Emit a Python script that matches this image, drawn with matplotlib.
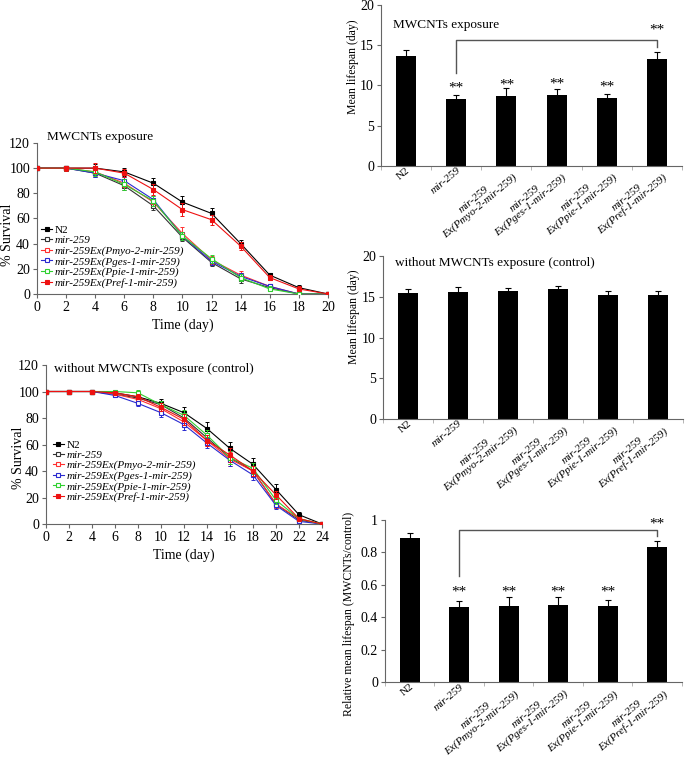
import numpy as np
import matplotlib
matplotlib.use("Agg")
import matplotlib.pyplot as plt

plt.rcParams['font.family'] = ['Liberation Serif', 'DejaVu Serif']

# ---------------- data ----------------
strains = ['N2', 'mir-259', 'mir-259Ex(Pmyo-2-mir-259)', 'mir-259Ex(Pges-1-mir-259)',
           'mir-259Ex(Ppie-1-mir-259)', 'mir-259Ex(Pref-1-mir-259)']

days_exp = [0, 2, 4, 6, 8, 10, 12, 14, 16, 18, 20]
surv_exp_n2 = [100, 100, 100, 97, 88, 73, 64, 40, 15, 5, 0]
surv_exp_mir = [100, 100, 96, 86, 70, 45, 25, 12, 5, 0, 0]
surv_exp_pmyo = [100, 100, 97, 88, 73, 48, 27, 15, 6, 0, 0]
surv_exp_pges = [100, 100, 96, 90, 75, 46, 26, 14, 6, 0, 0]
surv_exp_ppie = [100, 100, 97, 87, 74, 46, 28, 13, 4, 0, 0]
surv_exp_pref = [100, 100, 100, 96, 83, 67, 59, 38, 13, 4, 0]
err_exp_n2 = [0, 2, 3, 3, 4, 5, 4, 3, 2, 2, 0]
err_exp_mir = [0, 2, 3, 3, 3, 3, 3, 3, 2, 0, 0]
err_exp_pmyo = [0, 2, 3, 3, 3, 5, 3, 3, 2, 0, 0]
err_exp_pges = [0, 2, 3, 3, 3, 3, 3, 3, 2, 0, 0]
err_exp_ppie = [0, 2, 3, 4, 4, 3, 3, 3, 2, 0, 0]
err_exp_pref = [0, 2, 4, 3, 4, 5, 4, 3, 2, 2, 0]

days_ctl = [0, 2, 4, 6, 8, 10, 12, 14, 16, 18, 20, 22, 24]
surv_ctl_n2 = [100, 100, 100, 99, 96, 91, 84, 72, 57, 45, 26, 7, 0]
surv_ctl_mir = [100, 100, 100, 98, 95, 90, 80, 65, 50, 40, 15, 3, 0]
surv_ctl_pmyo = [100, 100, 100, 98, 94, 87, 77, 63, 49, 40, 15, 4, 0]
surv_ctl_pges = [100, 100, 100, 97, 91, 84, 75, 61, 48, 37, 14, 2, 0]
surv_ctl_ppie = [100, 100, 100, 100, 99, 90, 82, 67, 50, 42, 18, 4, 0]
surv_ctl_pref = [100, 100, 100, 99, 96, 88, 79, 63, 52, 40, 22, 4, 0]
err_ctl_n2 = [0, 0, 0, 1, 2, 3, 4, 5, 5, 5, 4, 2, 0]
err_ctl_mir = [0, 0, 0, 1, 2, 3, 4, 4, 5, 4, 3, 1, 0]
err_ctl_pmyo = [0, 0, 0, 1, 2, 3, 4, 4, 5, 4, 3, 1, 0]
err_ctl_pges = [0, 0, 0, 1, 2, 3, 4, 4, 4, 4, 3, 1, 0]
err_ctl_ppie = [0, 0, 0, 1, 2, 3, 4, 4, 5, 4, 3, 1, 0]
err_ctl_pref = [0, 0, 0, 1, 2, 3, 4, 4, 5, 4, 3, 1, 0]

bar_labels = ['N2', 'mir-259', 'mir-259\nEx(Pmyo-2-mir-259)', 'mir-259\nEx(Pges-1-mir-259)',
              'mir-259\nEx(Ppie-1-mir-259)', 'mir-259\nEx(Pref-1-mir-259)']
exp_mean = [13.6, 8.3, 8.65, 8.85, 8.5, 13.25]
exp_err = [0.75, 0.5, 1.0, 0.7, 0.45, 0.9]
ctl_mean = [15.55, 15.6, 15.8, 16.0, 15.2, 15.3]
ctl_err = [0.45, 0.6, 0.35, 0.35, 0.6, 0.5]
rel_mean = [0.89, 0.463, 0.467, 0.479, 0.473, 0.835]
rel_err = [0.03, 0.037, 0.06, 0.045, 0.037, 0.035]

line_colors = ['black', '#333333', '#ff3030', '#2a2ad0', '#30d030', '#ee1111']
line_filled = [True, False, False, False, False, True]

SPINE = '#666666'

fig = plt.figure(figsize=(6.85, 7.62), dpi=100)

def style_axes(ax):
    for s in ['top', 'right']:
        ax.spines[s].set_visible(False)
    for s in ['left', 'bottom']:
        ax.spines[s].set_color(SPINE)
        ax.spines[s].set_linewidth(0.8)

def line_panel(ax, days, series, errs, title, title_xy, leg_anchor, xmax, ylab_xy):
    for i, (vals, err) in enumerate(zip(series, errs)):
        c = line_colors[i]
        ax.errorbar(days, vals, yerr=err, fmt='none', ecolor=c, elinewidth=0.7,
                    capsize=1.5, capthick=0.7, zorder=2 + i)
        ax.plot(days, vals, color=c, lw=0.8, marker='s', ms=3.5,
                mfc=c if line_filled[i] else 'white', mec=c, mew=0.8,
                label=strains[i], zorder=3 + i)
    style_axes(ax)
    ax.set_xlim(0, xmax)
    ax.set_ylim(0, 120)
    ax.set_xticks(range(0, xmax + 1, 2))
    ax.set_yticks(range(0, 121, 20))
    ax.tick_params(labelsize=10, length=3, width=0.8, color=SPINE, pad=2)
    ax.set_xlabel('Time (day)', fontsize=10, labelpad=3)
    ax.set_ylabel('% Survival', fontsize=10)
    ax.yaxis.set_label_coords(*ylab_xy)
    ax.text(title_xy[0], title_xy[1], title, transform=ax.transAxes, fontsize=9.5,
            ha='left', va='center')
    leg = ax.legend(loc='upper left', bbox_to_anchor=leg_anchor, frameon=False,
                    fontsize=8, handlelength=1.0, handletextpad=0.2, labelspacing=0.05,
                    borderaxespad=0, borderpad=0)
    for j, t in enumerate(leg.get_texts()):
        if j > 0:
            t.set_fontstyle('italic')

ax1 = fig.add_axes([0.0540, 0.6142, 0.4248, 0.1982])
line_panel(ax1, days_exp,
           [surv_exp_n2, surv_exp_mir, surv_exp_pmyo, surv_exp_pges, surv_exp_ppie, surv_exp_pref],
           [err_exp_n2, err_exp_mir, err_exp_pmyo, err_exp_pges, err_exp_ppie, err_exp_pref],
           'MWCNTs exposure', (0.035, 1.04), (0.015, 0.455), 20, (-0.078, 0.39))

ax2 = fig.add_axes([0.0672, 0.3123, 0.4029, 0.2087])
line_panel(ax2, days_ctl,
           [surv_ctl_n2, surv_ctl_mir, surv_ctl_pmyo, surv_ctl_pges, surv_ctl_ppie, surv_ctl_pref],
           [err_ctl_n2, err_ctl_mir, err_ctl_pmyo, err_ctl_pges, err_ctl_ppie, err_ctl_pref],
           'without MWCNTs exposure (control)', (0.03, 0.975), (0.025, 0.53), 24,
           (-0.078, 0.415))

def bar_panel(ax, means, errs, ymax, yticks, ylabel, title, title_y, ylab_xy):
    x = np.arange(len(means))
    ax.bar(x, means, width=0.4, color='black', zorder=2)
    ax.errorbar(x, means, yerr=errs, fmt='none', ecolor='black', elinewidth=0.8,
                capsize=2, capthick=0.8, zorder=3)
    style_axes(ax)
    ax.set_xlim(-0.5, 5.5)
    ax.set_ylim(0, ymax)
    ax.set_yticks(yticks)
    ax.set_xticks(x)
    ax.set_xticks(np.arange(-0.5, 6, 1), minor=True)
    ax.tick_params(axis='x', which='major', length=0, pad=0)
    ax.tick_params(axis='x', which='minor', length=3, width=0.6, color='#aaaaaa')
    ax.tick_params(axis='y', labelsize=10, length=3, width=0.8, color=SPINE, pad=2)
    ax.set_xticklabels(bar_labels, rotation=40, ha='right', va='top',
                       rotation_mode='anchor', fontsize=8.0, multialignment='center',
                       linespacing=1.0)
    for j, t in enumerate(ax.get_xticklabels()):
        if j > 0:
            t.set_fontstyle('italic')
    ax.set_ylabel(ylabel, fontsize=8.5)
    ax.yaxis.set_label_coords(*ylab_xy)
    if title:
        ax.text(0.04, title_y, title, transform=ax.transAxes, fontsize=9.5,
                ha='left', va='center')

ax3 = fig.add_axes([0.5562, 0.7822, 0.4394, 0.2113])
bar_panel(ax3, exp_mean, exp_err, 20, [0, 5, 10, 15, 20], 'Mean lifespan (day)',
          'MWCNTs exposure', 0.875, (-0.072, 0.615))
ax3.plot([1, 1, 5, 5], [11.55, 15.7, 15.7, 14.8], color='#555555', lw=1, zorder=4)
for xi, yi in zip([1, 2, 3, 4, 5], [8.85, 9.25, 9.35, 8.95, 16.05]):
    ax3.text(xi, yi, '**', ha='center', va='bottom', fontsize=11)

ax4 = fig.add_axes([0.5591, 0.4501, 0.4380, 0.2135])
bar_panel(ax4, ctl_mean, ctl_err, 20, [0, 5, 10, 15, 20], 'Mean lifespan (day)',
          'without MWCNTs exposure (control)', 0.96, (-0.078, 0.626))

ax5 = fig.add_axes([0.5620, 0.1046, 0.4336, 0.2130])
bar_panel(ax5, rel_mean, rel_err, 1.0, [0, 0.2, 0.4, 0.6, 0.8, 1.0],
          'Relative mean lifespan (MWCNTs/control)', None, None, (-0.10, 0.42))
ax5.set_yticklabels(['0', '0.2', '0.4', '0.6', '0.8', '1'])
ax5.plot([1, 1, 5, 5], [0.654, 0.936, 0.936, 0.899], color='#555555', lw=1, zorder=4,
         clip_on=False)
for xi, yi in zip([1, 2, 3, 4, 5], [0.517, 0.517, 0.517, 0.517, 0.932]):
    ax5.text(xi, yi, '**', ha='center', va='bottom', fontsize=11)

fig.savefig('out.png', dpi=100)
